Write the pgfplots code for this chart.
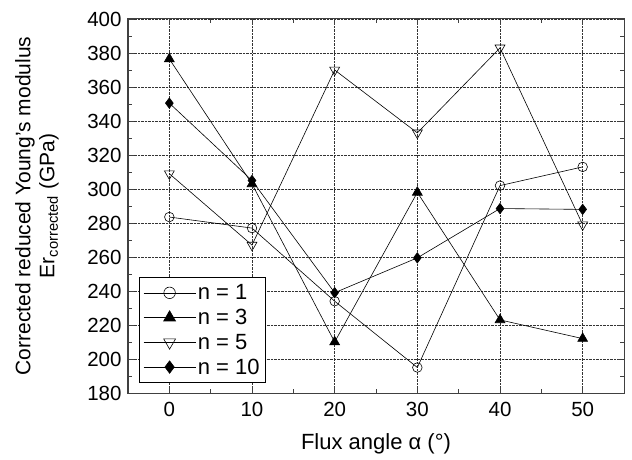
\documentclass[border=0pt]{standalone}
\usepackage{fontspec}
\setmainfont{Liberation Sans}
\usepackage{pgfplots}
\pgfplotsset{compat=1.18}

\begin{document}
\begin{tikzpicture}
\begin{axis}[
    scale only axis,
    width=496pt,
    height=374pt,
    xmin=-5, xmax=55,
    ymin=180, ymax=400,
    xtick={0,10,20,30,40,50},
    ytick={180,200,...,400},
    minor x tick num=1,
    minor y tick num=1,
    tick align=inside,
    major tick length=6pt,
    minor tick length=4pt,
    axis line style={line width=1pt, black!75},
    tick style={line width=0.8pt, black!75},
    grid=major,
    grid style={densely dotted, black!80, line width=0.5pt},
    font=\fontsize{20.5}{24}\selectfont,
    /pgf/number format/assume math mode=true,
    xticklabel style={yshift=-6pt},
    yticklabel style={xshift=-3pt},
    xlabel={Flux angle α (°)},
    every axis x label/.style={at={(rel axis cs:0.5,0)}, yshift=-51pt, anchor=center,
        font=\fontsize{22}{26}\selectfont},
    ylabel={Corrected reduced Young's modulus\\Er\textsubscript{corrected} (GPa)},
    every axis y label/.style={at={(rel axis cs:0,0.5)}, xshift=-91pt, rotate=90, anchor=center,
        align=center, font=\fontsize{21}{24}\selectfont},
    legend style={at={(0.022,0.027)}, anchor=south west, draw=black, line width=0.8pt,
        font=\fontsize{22}{25}\selectfont, row sep=4pt, inner xsep=4pt, inner ysep=5pt},
    legend cell align=left,
    legend image code/.code={
        \draw[mark repeat=2, mark phase=2, every mark/.append style={scale=1.2}]
            plot coordinates {(0pt,0pt) (26pt,0pt) (52pt,0pt)};
    },
    every axis plot/.append style={black, line width=0.6pt},
]
\addplot[mark=o, mark size=4.8pt, mark options={fill=white, line width=0.6pt}] coordinates {
    (0,283.5) (10,277) (20,234) (30,195) (40,302) (50,313)
};
\addplot[mark=triangle*, mark size=5.7pt, mark options={fill=black}] coordinates {
    (0,376.5) (10,303) (20,210) (30,298) (40,223) (50,212)
};
\addplot[mark=triangle, mark size=5.7pt, mark options={fill=white, rotate=180, line width=0.6pt}] coordinates {
    (0,309) (10,267) (20,370) (30,333) (40,383) (50,279)
};
\addplot[mark=diamond*, mark size=5.2pt, mark options={fill=black}] coordinates {
    (0,350.5) (10,305) (20,239) (30,259.5) (40,288.5) (50,288)
};
\legend{n = 1, n = 3, n = 5, n = 10}
\coordinate (sw) at (rel axis cs:0,0);
\coordinate (ne) at (rel axis cs:1,1);
\end{axis}
\pgfresetboundingbox
\useasboundingbox ([shift={(-128pt,-66pt)}]sw) rectangle ([shift={(8pt,19pt)}]ne);
\end{tikzpicture}
\end{document}
